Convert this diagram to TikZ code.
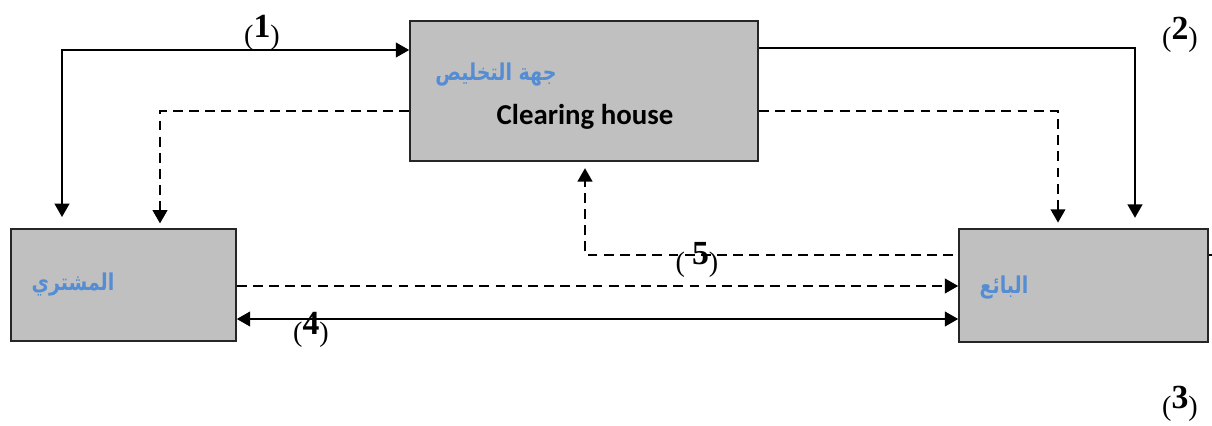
\documentclass[tikz,border=0pt]{standalone}
\usepackage{fontspec}
\setmainfont{Liberation Serif}
\newfontfamily\arabicfont[Script=Arabic]{DejaVu Sans}
\newfontfamily\latinsans{Carlito}
\TeXXeTstate=1
\usetikzlibrary{arrows.meta,backgrounds}
\definecolor{boxgray}{HTML}{C0C0C0}
\definecolor{arblue}{HTML}{548DD4}
% step number: plain parentheses, raised bold digit
\newcommand\steplabel[2][]{(#1\raisebox{0.17cm}{\fontsize{24}{28}\selectfont\textbf{#2}})}
% Arabic name, slightly condensed
\newcommand\arname[1]{\scalebox{0.82}[1]{\beginR #1\endR}}

\begin{document}
\begin{tikzpicture}[x=0.025cm,y=-0.025cm,
  >={Triangle[length=9.5pt,width=10.5pt]},
  box/.style={draw=black!85,line width=1.1pt,fill=boxgray,inner sep=0pt},
  conn/.style={line width=1.3pt},
  dconn/.style={conn,dash pattern=on 7pt off 4.5pt},
  lbl/.style={font=\fontsize{20}{24}\selectfont,inner sep=0pt},
  ar/.style={text=arblue,font=\arabicfont\bfseries\fontsize{16.5}{20}\selectfont,inner sep=0pt}]
\useasboundingbox (0,0) rectangle (1212,426);

% parties
\node[box,minimum width=8.7cm,minimum height=3.5cm] (ch) at (584,91) {};
\node[box,minimum width=5.625cm,minimum height=2.8cm] (buyer) at (123.5,285) {};
\node[box,minimum width=6.225cm,minimum height=2.825cm] (seller) at (1083.5,285.5) {};

\node[ar] (chAr) at (496,75) {\arname{جهة التخليص}};
\node[font=\latinsans\bfseries\fontsize{20.5}{24}\selectfont,inner sep=0pt] (chEn) at (585,117) {Clearing house};
\node[ar] (buyerAr) at (73,285) {\arname{المشتري}};
\node[ar] (sellerAr) at (1004,288) {\arname{البائع}};

% flows between the parties
\begin{scope}[on background layer]
  \draw[conn,<->,shorten <=0.28cm] (buyer.north -| 62,0) |- (ch.west |- 0,50);
  \draw[conn,->,shorten >=0.26cm] (ch.east |- 0,48) -| (seller.north -| 1135,0);
  \draw[dconn,->,shorten >=0.12cm] (ch.west |- 0,111) -| (buyer.north -| 160,0);
  \draw[dconn,->,shorten >=0.14cm] (ch.east |- 0,111) -| (seller.north -| 1058,0);
  \coordinate (edge5) at (1212,255);
  \draw[dconn,->,shorten >=0.16cm] (edge5) -| (ch.south -| 585,0);
  \draw[dconn,->] (buyer.east |- 0,286) -- (seller.west |- 0,286);
  \draw[conn,<->] (buyer.east |- 0,319) -- (seller.west |- 0,319);
\end{scope}

% step numbers
\node[lbl] (n1) at (262,33) {\steplabel{1}};
\node[lbl] (n2) at (1180,35) {\steplabel{2}};
\node[lbl] (n3) at (1180,404) {\steplabel{3}};
\node[lbl] (n4) at (311,330) {\steplabel{4}};
\node[lbl] (n5) at (697,260) {\steplabel[\ ]{5}};
\end{tikzpicture}
\end{document}
